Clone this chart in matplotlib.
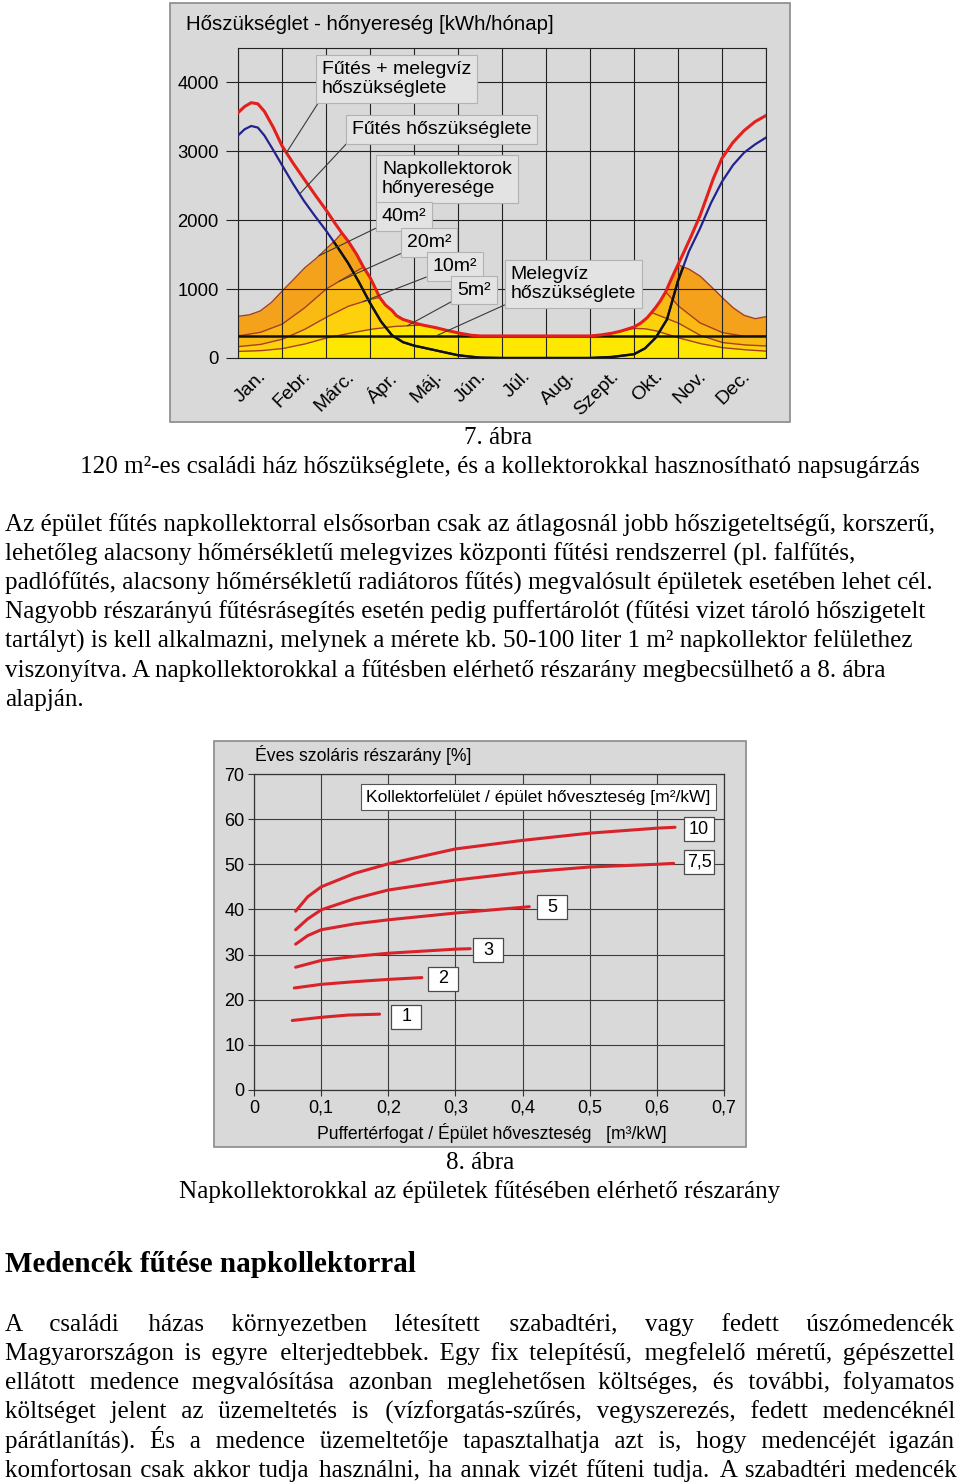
import numpy as np
import matplotlib
matplotlib.use('Agg')
import matplotlib.pyplot as plt
import matplotlib.transforms as mtransforms
from matplotlib.patches import Rectangle
from matplotlib.font_manager import FontProperties

W, H = 960, 1484
plt.rcParams['font.family'] = ['Liberation Sans', 'DejaVu Sans']

# ---------------- 7. ábra: monthly data (x in months, 0 = 1 Jan) ----------------
months = ['Jan.', 'Febr.', 'Márc.', 'Ápr.', 'Máj.', 'Jún.', 'Júl.', 'Aug.',
          'Szept.', 'Okt.', 'Nov.', 'Dec.']

# heating + hot water demand (red)
total_x = [0, 0.15, 0.3, 0.45, 0.6, 0.8, 1.0, 1.25, 1.5, 1.75, 2.0, 2.2, 2.36, 2.5, 2.7, 2.85,
           3.0, 3.1, 3.22, 3.35, 3.5, 3.6, 3.75, 4.0, 4.2, 4.5, 4.75, 5.0, 5.3, 5.5, 8.0,
           8.25, 8.5, 8.7, 9.0, 9.15, 9.3, 9.4, 9.5, 9.6, 9.72, 9.85, 10.0, 10.15, 10.3,
           10.5, 10.65, 10.8, 11.0, 11.25, 11.5, 11.75, 12.0]
total_y = [3560, 3650, 3706, 3690, 3580, 3350, 3080, 2830, 2600, 2370, 2150, 1960, 1814, 1700,
           1500, 1320, 1170, 1040, 880, 770, 690, 615, 560, 510, 478, 440, 400, 365, 330, 320,
           320, 335, 360, 390, 450, 505, 585, 660, 740, 830, 960, 1150, 1355, 1560, 1770,
           2065, 2330, 2600, 2900, 3130, 3300, 3430, 3520]

# heating demand (blue / black)
heat_x = [0, 0.15, 0.3, 0.45, 0.6, 0.8, 1.0, 1.25, 1.5, 1.75, 2.0, 2.25, 2.5, 2.75, 3.0,
          3.25, 3.5, 3.75, 4.0, 4.5, 5.0, 5.5, 6.0, 8.0, 8.5, 9.0, 9.25, 9.5, 9.75, 10.0,
          10.25, 10.5, 10.75, 11.0, 11.25, 11.5, 11.75, 12.0]
heat_y = [3230, 3320, 3368, 3345, 3230, 3020, 2800, 2530, 2280, 2060, 1850, 1620, 1380, 1100,
          800, 530, 330, 230, 180, 110, 40, 5, 0, 0, 15, 55, 140, 300, 560, 1120,
          1550, 1880, 2250, 2560, 2800, 2980, 3100, 3200]

# hot water demand
hot_x = [0, 12]
hot_y = [320, 320]

# collector gains, only where below the demand curve (nan = hidden above it)
g5_x = [0, 0.5, 1.0, 1.5, 2.0, 2.5, 3.0, 3.5, 4.0, 4.2, 6.0, 8.7, 9.0, 9.25, 9.5, 10.0,
        10.5, 11.0, 11.5, 12.0]
g5_y = [95, 105, 135, 200, 290, 355, 415, 455, 475, 478, np.nan, 390, 430, 425, 395, 295,
        210, 150, 120, 100]
g10_x = [0, 0.5, 1.0, 1.5, 2.0, 2.5, 3.0, 3.22, 6.0, 9.4, 9.5, 10.0, 10.5, 11.0, 11.5, 12.0]
g10_y = [165, 195, 270, 410, 590, 750, 850, 880, np.nan, 660, 635, 510, 330, 225, 190, 175]
g20_x = [0, 0.5, 1.0, 1.5, 2.0, 2.5, 2.85, 6.0, 9.72, 10.0, 10.5, 11.0, 11.5, 12.0]
g20_y = [320, 370, 490, 720, 1000, 1190, 1320, np.nan, 960, 760, 510, 370, 315, 320]
g40_x = [0, 0.25, 0.5, 0.75, 1.0, 1.25, 1.5, 1.75, 2.0, 2.2, 2.36, 6.0, 10.0, 10.25, 10.5,
         10.75, 11.0, 11.25, 11.5, 11.75, 12.0]
g40_y = [605, 625, 680, 800, 970, 1130, 1300, 1430, 1580, 1700, 1814, np.nan, 1355, 1290, 1190,
         1040, 880, 730, 620, 570, 600]

# ---------------- 8. ábra: solar fraction vs buffer volume ----------------
c10_x = [0.062, 0.08, 0.1, 0.15, 0.2, 0.3, 0.4, 0.5, 0.6, 0.627]
c10_y = [39.6, 42.8, 45.0, 48.0, 50.1, 53.4, 55.3, 56.9, 58.0, 58.2]
c75_x = [0.062, 0.08, 0.1, 0.15, 0.2, 0.3, 0.4, 0.5, 0.6, 0.625]
c75_y = [35.5, 37.9, 39.9, 42.4, 44.3, 46.5, 48.2, 49.4, 50.0, 50.2]
c5_x = [0.062, 0.08, 0.1, 0.15, 0.2, 0.3, 0.41]
c5_y = [32.3, 34.2, 35.5, 36.8, 37.7, 39.2, 40.6]
c3_x = [0.062, 0.1, 0.15, 0.2, 0.3, 0.322]
c3_y = [27.2, 28.7, 29.6, 30.3, 31.2, 31.3]
c2_x = [0.06, 0.1, 0.15, 0.2, 0.25]
c2_y = [22.6, 23.4, 24.0, 24.5, 24.9]
c1_x = [0.057, 0.1, 0.14, 0.187]
c1_y = [15.4, 16.1, 16.6, 16.8]
curve_names = ['10', '7,5', '5', '3', '2', '1']

# ---------------- document text ----------------
caption7 = ['7. ábra',
            '120 m²-es családi ház hőszükséglete, és a kollektorokkal hasznosítható napsugárzás']
para1 = ['Az épület fűtés napkollektorral elsősorban csak az átlagosnál jobb hőszigeteltségű, korszerű,',
         'lehetőleg alacsony hőmérsékletű melegvizes központi fűtési rendszerrel (pl. falfűtés,',
         'padlófűtés, alacsony hőmérsékletű radiátoros fűtés) megvalósult épületek esetében lehet cél.',
         'Nagyobb részarányú fűtésrásegítés esetén pedig puffertárolót (fűtési vizet tároló hőszigetelt',
         'tartályt) is kell alkalmazni, melynek a mérete kb. 50-100 liter 1 m² napkollektor felülethez',
         'viszonyítva. A napkollektorokkal a fűtésben elérhető részarány megbecsülhető a 8. ábra',
         'alapján.']
caption8 = ['8. ábra', 'Napkollektorokkal az épületek fűtésében elérhető részarány']
heading = 'Medencék fűtése napkollektorral'
para2 = ['A családi házas környezetben létesített szabadtéri, vagy fedett úszómedencék',
         'Magyarországon is egyre elterjedtebbek. Egy fix telepítésű, megfelelő méretű, gépészettel',
         'ellátott medence megvalósítása azonban meglehetősen költséges, és további, folyamatos',
         'költséget jelent az üzemeltetés is (vízforgatás-szűrés, vegyszerezés, fedett medencéknél',
         'párátlanítás). És a medence üzemeltetője tapasztalhatja azt is, hogy medencéjét igazán',
         'komfortosan csak akkor tudja használni, ha annak vizét fűteni tudja. A szabadtéri medencék']

PANEL = '#d9d9d9'
BOX = '#e3e3e3'
BOXE = '#b2b2b2'
SERIF = ['Liberation Serif', 'DejaVu Serif']

fig = plt.figure(figsize=(9.6, 14.84), dpi=100)
fig.patch.set_facecolor('white')


def fx(px):
    return px / W


def fy(py):
    return 1 - py / H


def panel(x0, y0, x1, y1):
    r = Rectangle((fx(x0), fy(y1)), fx(x1) - fx(x0), fy(y0) - fy(y1),
                  transform=fig.transFigure, facecolor=PANEL, edgecolor='#8a8a8a',
                  lw=1.2, zorder=-5)
    fig.add_artist(r)


# ======================= chart 7 =======================
panel(170, 3, 790, 422)
ax1 = fig.add_axes([fx(238), fy(358), fx(766) - fx(238), fy(48) - fy(358)])
ax1.set_facecolor(PANEL)
ax1.set_xlim(0, 12)
ax1.set_ylim(0, 4500)

xf = np.linspace(0, 12, 2401)
tot = np.interp(xf, total_x, total_y)
layers = []
for gx, gy in [(g5_x, g5_y), (g10_x, g10_y), (g20_x, g20_y), (g40_x, g40_y)]:
    layers.append(np.fmin(np.interp(xf, gx, gy), tot))

layer_cols = ['#ffe800', '#fdd10c', '#f9ba14', '#f4a21c']
lower = np.zeros_like(xf)
for u, c in zip(layers, layer_cols):
    ax1.fill_between(xf, lower, u, color=c, lw=0, zorder=1)
    lower = u
outline = ax1.fill_between(xf, 0, layers[-1], facecolor='none', lw=0, zorder=0)

ax1.set_xticks(np.arange(13), minor=True)
ax1.set_xticks(np.arange(12) + 0.5)
ax1.set_xticklabels(months, rotation=45, ha='right', va='top', fontsize=14)
ax1.set_yticks(np.arange(0, 4001, 1000))
ax1.set_yticklabels([str(v) for v in range(0, 4001, 1000)], fontsize=13.3)
ax1.grid(True, which='minor', axis='x', color='#222222', lw=0.8, zorder=0.5)
ax1.grid(True, which='major', axis='y', color='#222222', lw=0.8, zorder=0.5)
ax1.set_axisbelow(False)
ax1.tick_params(axis='x', which='both', length=0, pad=7)
ax1.tick_params(axis='y', length=9, width=0.8, color='#222222', pad=5)
for lab in ax1.get_xticklabels():
    lab.set_transform(lab.get_transform() +
                      mtransforms.ScaledTranslation(0.10, 0, fig.dpi_scale_trans))
for sp in ax1.spines.values():
    sp.set_color('#222222')
    sp.set_linewidth(0.8)

for u in layers:
    ax1.plot(xf, u, color='#a8401c', lw=1.0, zorder=2)
ax1.plot(hot_x, hot_y, color='#111111', lw=1.8, zorder=3)
ax1.plot(heat_x, heat_y, color='#23238f', lw=1.6, zorder=3)
blk, = ax1.plot(heat_x, heat_y, color='#111111', lw=1.7, zorder=3.5)
blk.set_clip_path(outline.get_paths()[0], ax1.transData)
ax1.plot(total_x, total_y, color='#e3201b', lw=2.2, zorder=4)

fig.text(fx(186), fy(25), 'Hőszükséglet - hőnyereség [kWh/hónap]', fontsize=14.7,
         va='center', ha='left')


def callout(text, xy, xytext):
    ax1.annotate(text, xy=xy, xytext=xytext, ha='left', va='center', fontsize=14,
                 linespacing=1.15, zorder=6,
                 bbox=dict(boxstyle='square,pad=0.3', fc=BOX, ec=BOXE, lw=0.8),
                 arrowprops=dict(arrowstyle='-', color='#3a3a3a', lw=0.8,
                                 relpos=(0, 0), shrinkA=0, shrinkB=0))


callout('Fűtés + melegvíz\nhőszükséglete', (1.1, np.interp(1.1, total_x, total_y)), (1.91, 4050))
callout('Fűtés hőszükséglete', (1.4, np.interp(1.4, heat_x, heat_y)), (2.59, 3320))
callout('Napkollektorok\nhőnyeresége', (3.27, 2594), (3.27, 2594))
callout('40m²', (1.84, np.interp(1.84, g40_x, g40_y)), (3.27, 2050))
callout('20m²', (2.3, np.interp(2.3, g20_x, g20_y)), (3.84, 1680))
callout('10m²', (2.84, np.interp(2.84, g10_x, g10_y)), (4.42, 1333))
callout('5m²', (3.85, np.interp(3.85, g5_x, g5_y)), (4.98, 986))
callout('Melegvíz\nhőszükséglete', (4.5, hot_y[0]), (6.2, 1072))

# ======================= chart 8 =======================
panel(214, 741, 746, 1147)
ax2 = fig.add_axes([fx(254), fy(1090), fx(724) - fx(254), fy(774) - fy(1090)])
ax2.set_facecolor(PANEL)
ax2.set_xlim(0, 0.7)
ax2.set_ylim(0, 70)
xt = np.arange(0, 0.71, 0.1)
ax2.set_xticks(xt)
ax2.set_xticklabels(['0'] + ['0,%d' % i for i in range(1, 8)], fontsize=13)
ax2.set_yticks(np.arange(0, 71, 10))
ax2.set_yticklabels([str(v) for v in range(0, 71, 10)], fontsize=13)
ax2.grid(True, color='#3c3c3c', lw=0.8)
ax2.set_axisbelow(True)
ax2.tick_params(length=4, width=0.8, color='#333333', pad=3)
for sp in ax2.spines.values():
    sp.set_color('#333333')
    sp.set_linewidth(0.9)

curves = [(c10_x, c10_y), (c75_x, c75_y), (c5_x, c5_y), (c3_x, c3_y), (c2_x, c2_y), (c1_x, c1_y)]
for cx, cy in curves:
    ax2.plot(cx, cy, color='#d8232a', lw=2.2, solid_capstyle='round', zorder=3)

label_pos = [(0.663, 57.8), (0.663, 50.5), (0.444, 40.5), (0.349, 31.0), (0.282, 24.6),
             (0.227, 16.2)]
for name, (lx, ly) in zip(curve_names, label_pos):
    tr = fig.dpi_scale_trans + mtransforms.ScaledTranslation(lx, ly, ax2.transData)
    ax2.add_patch(Rectangle((-0.15, -0.12), 0.30, 0.24, transform=tr, facecolor='white',
                            edgecolor='#4a4a4a', lw=0.9, zorder=5))
    ax2.text(lx, ly, name, ha='center', va='center', fontsize=13, zorder=6)

ax2.text(0.1669, 64.9, 'Kollektorfelület / épület hőveszteség [m²/kW]', ha='left',
         va='center', fontsize=12.6, zorder=6,
         bbox=dict(boxstyle='square,pad=0.3', fc='white', ec='#555555', lw=0.8))
fig.text(fx(255), fy(755), 'Éves szoláris részarány [%]', fontsize=12.7, va='center')
fig.text(fx(492), fy(1133), 'Puffertérfogat / Épület hőveszteség   [m³/kW]', fontsize=12.7,
         ha='center', va='center')

# ======================= document text =======================
BODY = 18.1
BL = 6  # baseline offset below the visual line centre, px
fig.text(fx(498), fy(438 + BL), caption7[0], ha='center', va='baseline', fontsize=BODY, family=SERIF)
fig.text(fx(500), fy(467 + BL), caption7[1], ha='center', va='baseline', fontsize=BODY, family=SERIF)
for i, line in enumerate(para1):
    fig.text(fx(5), fy(525 + BL + 29.1 * i), line, ha='left', va='baseline', fontsize=BODY,
             family=SERIF)
fig.text(fx(480), fy(1163 + BL), caption8[0], ha='center', va='baseline', fontsize=BODY, family=SERIF)
fig.text(fx(480), fy(1192 + BL), caption8[1], ha='center', va='baseline', fontsize=BODY, family=SERIF)
fig.text(fx(5), fy(1265 + 7), heading, ha='left', va='baseline', fontsize=21, weight='bold',
         family=SERIF)

# justified paragraph: widen the word gaps with hair spaces so each line spans the margins
renderer = fig.canvas.get_renderer()
prop = FontProperties(family=SERIF, size=BODY)
HAIR = '\u200a'


def text_w(s):
    return renderer.get_text_width_height_descent(s, prop, ismath=False)[0]


hair_w = text_w('a' + HAIR * 10 + 'a') / 10 - text_w('aa') / 10
for i, line in enumerate(para2):
    words = line.split(' ')
    per_gap = (950 - text_w(line)) / (len(words) - 1)
    s = words[0]
    acc = 0.0
    used = 0.0
    for w in words[1:]:
        acc += per_gap
        nh = max(0, int(round((acc - used) / hair_w)))
        used += nh * hair_w
        s += ' ' + HAIR * nh + w
    fig.text(fx(5), fy(1325 + BL + 29.1 * i), s, ha='left', va='baseline', fontsize=BODY,
             family=SERIF)

fig.savefig('out.png', dpi=100, facecolor='white')
